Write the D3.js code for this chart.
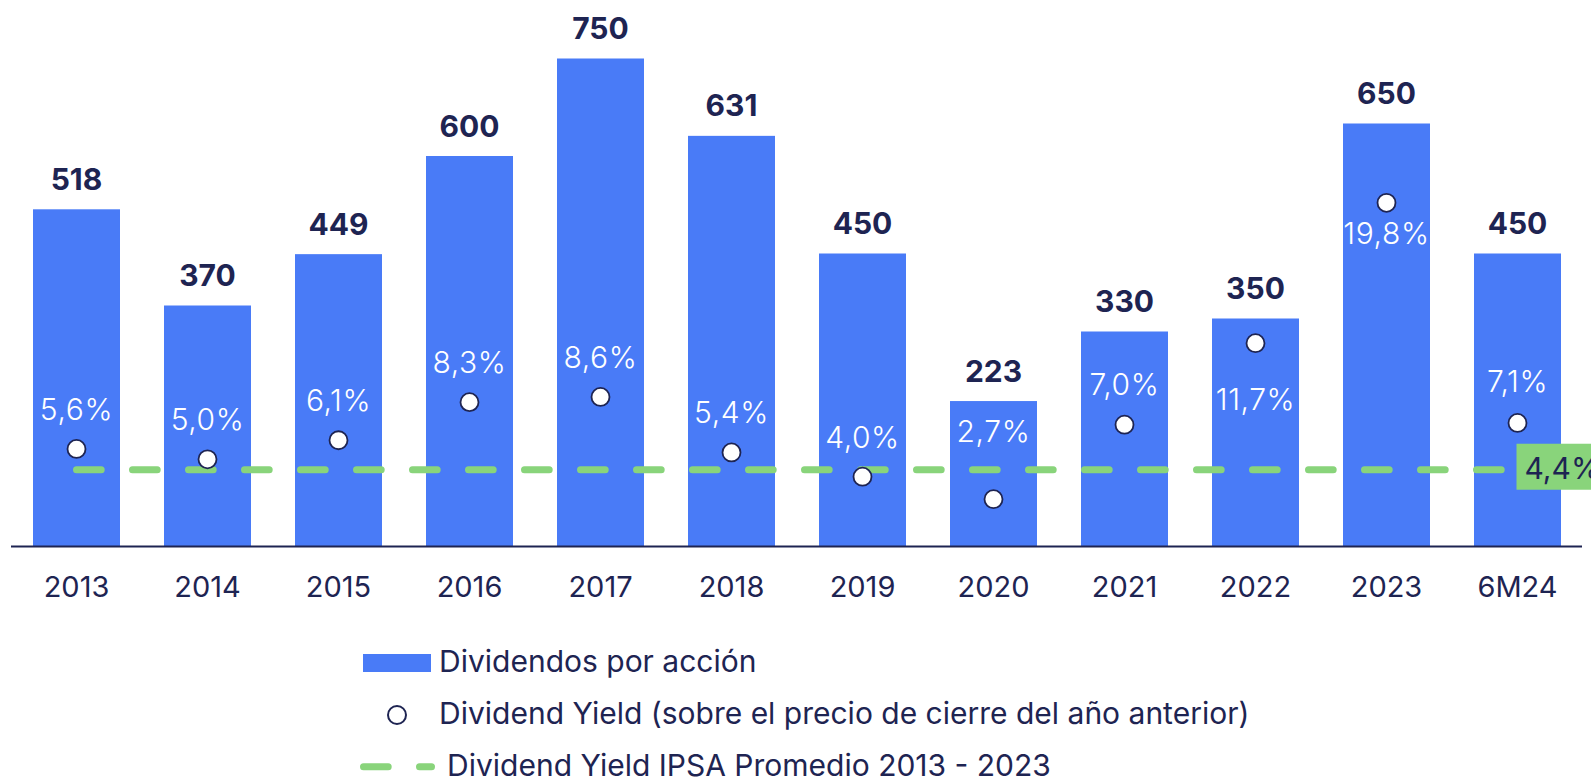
<!DOCTYPE html>
<html>
<head>
<meta charset="utf-8">
<script src="https://cdn.jsdelivr.net/npm/d3@7"></script>
<style>
  body { margin: 0; background: #fff; }
  svg { display: block; font-family: Inter, "Noto Sans", sans-serif; }
</style>
</head>
<body>
<svg id="chart" width="1591" height="777"></svg>
<script>
// Datos
const categories = ["2013", "2014", "2015", "2016", "2017", "2018", "2019", "2020", "2021", "2022", "2023", "6M24"];
const dividends = [518, 370, 449, 600, 750, 631, 450, 223, 330, 350, 650, 450];
const yields = [5.6, 5.0, 6.1, 8.3, 8.6, 5.4, 4.0, 2.7, 7.0, 11.7, 19.8, 7.1];
const ipsaAverage = 4.4;
const legendLabels = [
  "Dividendos por acción",
  "Dividend Yield (sobre el precio de cierre del año anterior)",
  "Dividend Yield IPSA Promedio 2013 - 2023"
];

// desplazamiento vertical de cada etiqueta de yield respecto a su punto
const yieldLabelDy = [-29, -29, -29, -29, -29, -29, -29, -57, -30, 67, 41, -31];

const navy = "#1e2452";
const blue = "#497bf7";
const green = "#89d47b";

const fmtPct = v => v.toFixed(1).replace(".", ",") + "%";

const svg = d3.select("#chart");

// Escalas
const x = d3.scaleBand().domain(categories).range([11, 1583]).paddingInner(0.336).paddingOuter(0.168);
const y = d3.scaleLinear().domain([0, 800]).range([546, 26]);
const y2 = d3.scaleLinear().domain([0, 30]).range([546, 26]);

// Barras
svg.append("g").selectAll("rect")
  .data(dividends)
  .join("rect")
  .attr("x", (d, i) => x(categories[i]))
  .attr("y", d => y(d))
  .attr("width", x.bandwidth())
  .attr("height", d => y(0) - y(d))
  .attr("fill", blue);

// Etiquetas de las barras
svg.append("g").selectAll("text")
  .data(dividends)
  .join("text")
  .attr("x", (d, i) => x(categories[i]) + x.bandwidth() / 2)
  .attr("y", d => y(d) - 19.5)
  .attr("text-anchor", "middle")
  .attr("font-size", 30)
  .attr("font-weight", 700)
  .attr("fill", navy)
  .text(d => d);

// Eje X
const axis = svg.append("g")
  .attr("transform", `translate(0,${y(0)})`)
  .call(d3.axisBottom(x).tickSize(0).tickPadding(0));
axis.select(".domain").attr("stroke", navy).attr("stroke-width", 2.2).attr("d", "M11,0.5H1582");
axis.selectAll("text")
  .attr("y", 50.5)
  .attr("dy", 0)
  .attr("font-size", 29)
  .attr("font-family", "Inter, sans-serif")
  .attr("fill", navy);

// Linea promedio IPSA
const lineX0 = x(categories[0]) + x.bandwidth() / 2;
const lineX1 = x(categories[categories.length - 1]) + x.bandwidth() / 2;
svg.append("line")
  .attr("x1", lineX0)
  .attr("x2", lineX1)
  .attr("y1", y2(ipsaAverage))
  .attr("y2", y2(ipsaAverage))
  .attr("stroke", green)
  .attr("stroke-width", 7)
  .attr("stroke-linecap", "round")
  .attr("stroke-dasharray", "24.7 31.3");

// Caja con el valor promedio (cortada en el borde, como el original)
svg.append("rect")
  .attr("x", lineX1 - 1)
  .attr("y", y2(ipsaAverage) - 26)
  .attr("width", 80)
  .attr("height", 46)
  .attr("fill", green);
svg.append("text")
  .attr("x", lineX1 + 7)
  .attr("y", y2(ipsaAverage) + 9)
  .attr("font-size", 30)
  .attr("fill", navy)
  .text(fmtPct(ipsaAverage));

// Puntos de dividend yield
svg.append("g").selectAll("circle")
  .data(yields)
  .join("circle")
  .attr("cx", (d, i) => x(categories[i]) + x.bandwidth() / 2)
  .attr("cy", d => y2(d))
  .attr("r", 9)
  .attr("fill", "#fff")
  .attr("stroke", navy)
  .attr("stroke-width", 1.8);

// Etiquetas de yield
svg.append("g").selectAll("text")
  .data(yields)
  .join("text")
  .attr("x", (d, i) => x(categories[i]) + x.bandwidth() / 2)
  .attr("y", (d, i) => y2(d) + yieldLabelDy[i])
  .attr("text-anchor", "middle")
  .attr("font-size", 30)
  .attr("font-weight", 300)
  .attr("letter-spacing", 0.6)
  .attr("fill", "#fff")
  .text(d => fmtPct(d));

// Leyenda
const legend = svg.append("g");
legend.append("rect")
  .attr("x", 363).attr("y", 654).attr("width", 68).attr("height", 18)
  .attr("fill", blue);
legend.append("circle")
  .attr("cx", 397).attr("cy", 715).attr("r", 9)
  .attr("fill", "#fff").attr("stroke", navy).attr("stroke-width", 2);
legend.append("line")
  .attr("x1", 363.5).attr("x2", 431.5).attr("y1", 766.7).attr("y2", 766.7)
  .attr("stroke", green).attr("stroke-width", 7)
  .attr("stroke-linecap", "round").attr("stroke-dasharray", "24.7 31.3");

const legendPos = [[439, 671.5], [439, 723.5], [447, 776]];
legend.selectAll("text")
  .data(legendLabels)
  .join("text")
  .attr("x", (d, i) => legendPos[i][0])
  .attr("y", (d, i) => legendPos[i][1])
  .attr("font-size", 30)
  .attr("fill", navy)
  .text(d => d);
</script>
</body>
</html>
